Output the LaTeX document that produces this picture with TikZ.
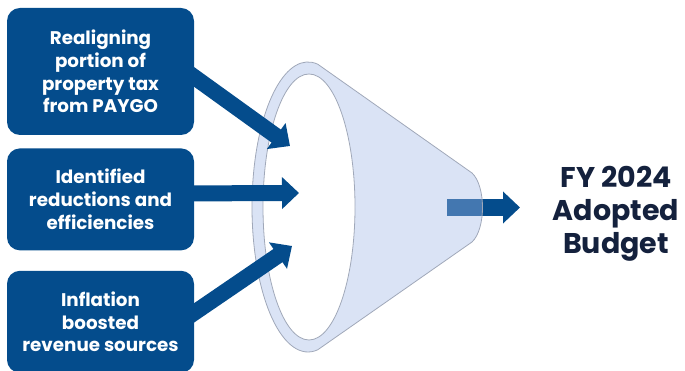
\documentclass[tikz,border=0pt]{standalone}
\usepackage{fontspec}
\setmainfont{Poppins}
\usetikzlibrary{arrows.meta,positioning}
\definecolor{boxblue}{RGB}{4,76,140}
\definecolor{funnelblue}{RGB}{163,185,230}
\definecolor{rimgray}{RGB}{160,168,185}
\definecolor{navy}{RGB}{20,33,61}

\begin{document}
\begin{tikzpicture}[x=1pt,y=1pt,
  src/.style={fill=boxblue, rounded corners=13pt, minimum width=187pt, inner sep=0pt,
    text=white, align=center, font=\bfseries\fontsize{18.3}{22.7}\selectfont},
  flow/.style={draw=boxblue, line width=16pt, -{Triangle[width=31pt,length=17pt]}, shorten <=-12pt}]
\useasboundingbox (0,0) rectangle (685,371);
\node[src, minimum height=127pt] (paygo) at (100.5,299.5) {Realigning\\portion of\\property tax\\from PAYGO};
\node[src, minimum height=102pt, below=13pt of paygo] (cuts) {Identified\\reductions and\\efficiencies};
\node[src, minimum height=102pt, below=20pt of cuts] (infl) {Inflation\\boosted\\revenue sources};
\coordinate (in1) at (290,225);
\coordinate (in2) at (299,178);
\coordinate (in3) at (292,125);
\coordinate (out0) at (447,163.5);
\coordinate (out1) at (520,163.5);
\draw[flow, line width=17pt, shorten <=0pt] (out0) -- (out1);
\path[fill=funnelblue, fill opacity=0.4, draw=rimgray, line width=0.8pt]
  (472,198) -- ([shift={(308,164)}]80:56 and 145)
  arc[start angle=80, end angle=280, x radius=56, y radius=145]
  -- (472,129) .. controls (486,142) and (486,185) .. cycle;
\draw[fill=white, draw=rimgray, line width=0.8pt] (309,164) ellipse [x radius=46, y radius=133];
\draw[flow] ([yshift=-5.5pt]paygo.east) -- (in1);
\draw[flow] ([yshift=6pt]cuts.east) -- (in2);
\draw[flow] ([yshift=9pt]infl.east) -- (in3);
\node[text=navy, align=center, font=\bfseries\fontsize{28.5}{33}\selectfont] (budget) at (616,157) {FY 2024\\Adopted\\Budget};
\end{tikzpicture}
\end{document}
